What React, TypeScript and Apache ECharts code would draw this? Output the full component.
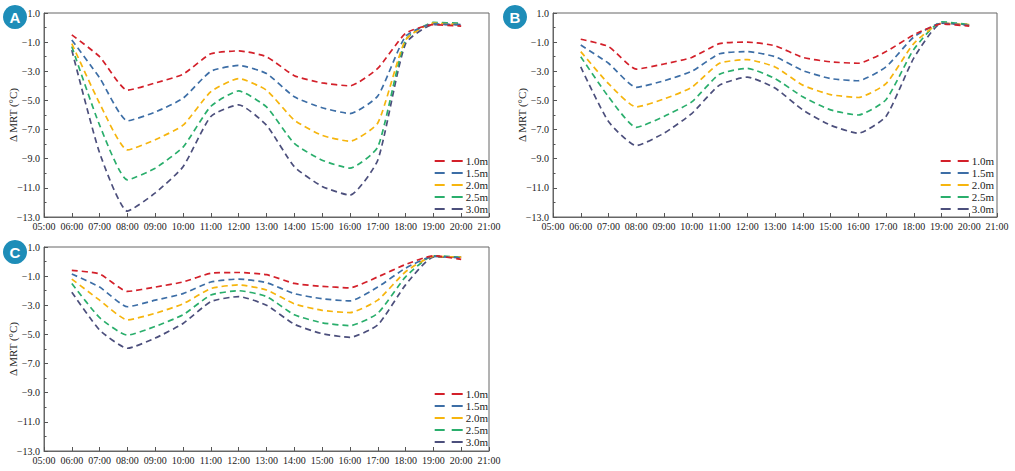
import React, { useEffect, useRef } from "react";
import * as echarts from "echarts";

const hours = [6, 7, 8, 9, 10, 11, 12, 13, 14, 15, 16, 17, 18, 19, 20];
const heights = ["1.0m", "1.5m", "2.0m", "2.5m", "3.0m"];
const colors = ["#d3202a", "#3d6ea6", "#f6b50e", "#2aae6c", "#4c4f7c"];
const panelLabels = ["A", "B", "C"];

const a10 = [-0.5, -2.0, -4.3, -3.8, -3.2, -1.8, -1.6, -2.0, -3.3, -3.8, -4.0, -2.8, -0.4, 0.2, 0.1];
const a15 = [-0.85, -3.45, -6.4, -5.8, -4.85, -3.0, -2.6, -3.15, -4.75, -5.5, -5.9, -4.7, -0.6, 0.25, 0.2];
const a20 = [-1.1, -5.2, -8.4, -7.7, -6.7, -4.4, -3.5, -4.3, -6.35, -7.4, -7.8, -6.55, -0.85, 0.3, 0.2];
const a25 = [-1.3, -6.7, -10.45, -9.65, -8.2, -5.4, -4.35, -5.45, -7.95, -9.1, -9.65, -8.2, -0.85, 0.35, 0.3];
const a30 = [-1.55, -8.6, -12.6, -11.35, -9.55, -6.1, -5.3, -6.7, -9.55, -10.9, -11.5, -9.1, -1.1, 0.2, 0.2];

const b10 = [-0.8, -1.3, -2.85, -2.5, -2.05, -1.1, -1.0, -1.25, -2.05, -2.35, -2.45, -1.65, -0.5, 0.25, 0.1];
const b15 = [-1.2, -2.45, -4.1, -3.65, -3.0, -1.8, -1.65, -2.0, -2.95, -3.5, -3.65, -2.7, -0.65, 0.3, 0.15];
const b20 = [-1.65, -3.85, -5.45, -4.9, -4.1, -2.45, -2.2, -2.7, -3.95, -4.6, -4.8, -3.85, -1.1, 0.3, 0.2];
const b25 = [-2.0, -4.75, -6.85, -6.1, -5.1, -3.2, -2.8, -3.5, -4.75, -5.65, -6.0, -4.95, -1.5, 0.4, 0.2];
const b30 = [-2.7, -6.45, -8.1, -7.25, -5.9, -3.95, -3.4, -4.15, -5.65, -6.7, -7.25, -6.1, -2.1, 0.3, 0.2];

const c10 = [-0.6, -0.85, -2.05, -1.75, -1.4, -0.8, -0.75, -0.9, -1.5, -1.7, -1.8, -1.05, -0.2, 0.4, 0.15];
const c15 = [-0.85, -1.75, -3.1, -2.65, -2.2, -1.4, -1.2, -1.45, -2.2, -2.55, -2.7, -1.75, -0.45, 0.35, 0.25];
const c20 = [-1.2, -2.65, -4.0, -3.55, -2.9, -1.85, -1.6, -1.95, -2.9, -3.35, -3.5, -2.65, -0.7, 0.35, 0.3];
const c25 = [-1.5, -3.85, -5.05, -4.45, -3.65, -2.3, -2.0, -2.4, -3.65, -4.2, -4.4, -3.55, -1.05, 0.4, 0.3];
const c30 = [-2.1, -4.7, -5.95, -5.25, -4.25, -2.75, -2.4, -3.0, -4.3, -4.95, -5.2, -4.35, -1.6, 0.3, 0.3];

const panels = [
  [a10, a15, a20, a25, a30],
  [b10, b15, b20, b25, b30],
  [c10, c15, c20, c25, c30],
];

const FONT = "'Liberation Serif', 'Times New Roman', serif";

const grids = [
  { left: 44, top: 13, width: 445, height: 204 },
  { left: 553, top: 13, width: 444, height: 204 },
  { left: 44, top: 247, width: 445, height: 204 },
];

const LEGEND_ICON = "path://M0,0h10v2h-10z M17,0h11v2h-11z";

export default function App() {
  const ref = useRef<HTMLDivElement>(null);
  useEffect(() => {
    document.body.style.margin = "0";
    if (!ref.current) return;
    const chart = echarts.init(ref.current, undefined, { renderer: "svg" });
    const fmtY = (v: number) => (v < 0 ? "\u2212" + Math.abs(v).toFixed(1) : v.toFixed(1));
    const fmtX = (v: number) => (v < 10 ? "0" + v : "" + v) + ":00";
    const axisLine = { show: true, onZero: false, lineStyle: { color: "#666", width: 1 } };
    const series: any[] = [];
    panels.forEach((p, gi) => {
      p.forEach((vals, si) => {
        series.push({
          type: "line",
          name: heights[si],
          xAxisIndex: gi,
          yAxisIndex: gi,
          data: hours.map((h, i) => [h, vals[i]]),
          showSymbol: false,
          symbol: "none",
          smooth: 0.18,
          lineStyle: { color: colors[si], width: 1.7, type: [6, 4] },
          itemStyle: { color: colors[si] },
          z: 10 - si,
        });
      });
    });
    const option: any = {
      animation: false,
      grid: grids.map((g) => ({ ...g, show: true, borderColor: "#666", borderWidth: 1, containLabel: false })),
      xAxis: grids.map((_, i) => ({
        type: "value",
        gridIndex: i,
        min: 5,
        max: 21,
        interval: 1,
        axisLine,
        axisTick: { show: true, inside: true, length: 4, lineStyle: { color: "#555" } },
        splitLine: { show: false },
        axisLabel: { formatter: fmtX, color: "#222", fontFamily: FONT, fontSize: 10, margin: 4 },
      })),
      yAxis: grids.map((_, i) => ({
        type: "value",
        gridIndex: i,
        min: -13,
        max: 1,
        interval: 2,
        name: "\u0394 MRT (\u00b0C)",
        nameLocation: "middle",
        nameRotate: 90,
        nameGap: 26,
        nameMoveOverlap: false,
        nameTextStyle: { fontFamily: FONT, fontSize: 11, color: "#222" },
        axisLine,
        axisTick: { show: true, inside: true, length: 4, lineStyle: { color: "#555" } },
        minorTick: { show: true, splitNumber: 2, length: 2.5, lineStyle: { color: "#555" } },
        splitLine: { show: false },
        axisLabel: { formatter: fmtY, color: "#222", fontFamily: FONT, fontSize: 10, margin: 4 },
      })),
      legend: [
        { right: 527, top: 155 },
        { right: 21, top: 155 },
        { right: 527, top: 388 },
      ].map((pos) => ({
        ...pos,
        orient: "vertical",
        data: heights.map((h) => ({ name: h, icon: LEGEND_ICON })),
        itemWidth: 28,
        itemHeight: 2,
        itemGap: 0,
        padding: 0,
        textStyle: { fontFamily: FONT, fontSize: 11, color: "#222", lineHeight: 12, padding: [0, 0, 0, -2] },
        selectedMode: false,
      })),
      graphic: [
        { x: 15, y: 17 },
        { x: 515, y: 17 },
        { x: 15, y: 252 },
      ].map((c, i) => ({
        type: "group",
        x: c.x,
        y: c.y,
        children: [
          { type: "circle", shape: { cx: 0, cy: 0, r: 12 }, style: { fill: "#1e8db8" } },
          {
            type: "text",
            x: 0,
            y: 0.5,
            style: {
              text: panelLabels[i],
              fill: "#fff",
              font: "bold 15px 'Liberation Sans', Arial, sans-serif",
              align: "center",
              verticalAlign: "middle",
            },
          },
        ],
      })),
      series,
    };
    chart.setOption(option);
    return () => chart.dispose();
  }, []);
  return <div ref={ref} style={{ width: 1015, height: 471 }} />;
}
